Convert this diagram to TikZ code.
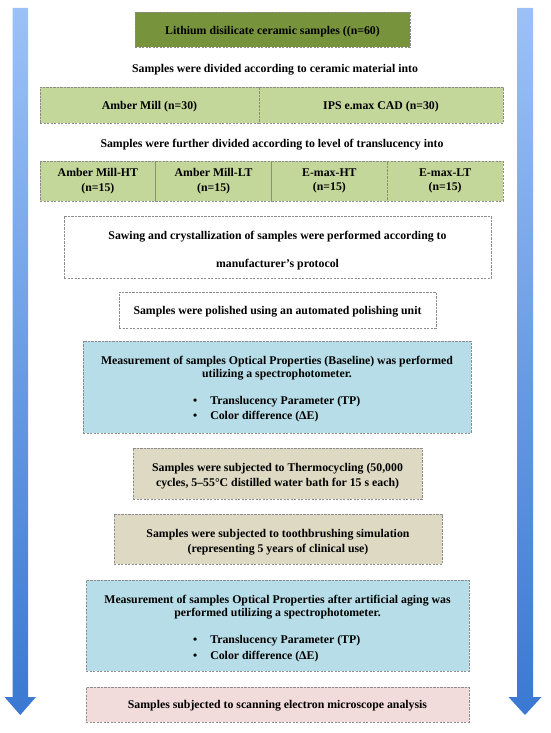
\documentclass[tikz,border=0pt]{standalone}
\usepackage{fontspec}
\setmainfont{Liberation Serif}
\definecolor{darkgreen}{HTML}{77933C}
\definecolor{lightgreen}{HTML}{C4D79B}
\definecolor{lightblue}{HTML}{B7DEE8}
\definecolor{beige}{HTML}{DDD9C3}
\definecolor{pink}{HTML}{F2DCDB}
\definecolor{bordergray}{HTML}{8C8C8C}
\definecolor{arrowtop}{HTML}{9CC1F7}
\definecolor{arrowbot}{HTML}{3A78D2}
\begin{document}
\begin{tikzpicture}[x=1pt,y=-1pt,
  font=\bfseries\fontsize{11.8}{14.5}\selectfont,
  box/.style={draw=bordergray, dash pattern=on 2.2pt off 1.3pt, line width=0.8pt,
    inner sep=0pt, anchor=center},
  plain/.style={inner sep=0pt, align=center, anchor=center},
  bigarrow/.style={top color=arrowtop, bottom color=arrowbot}]
\useasboundingbox (0,0) rectangle (550,733);
% side arrows
\shade[bigarrow] (12.5,8) -- (28,8) -- (28,697) -- (36,697) -- (20.25,715) -- (4.5,697) -- (12.5,697) -- cycle;
\shade[bigarrow] (517,8) -- (533,8) -- (533,697) -- (541.5,697) -- (525,715) -- (508.5,697) -- (517,697) -- cycle;
% top box
\node[box, fill=darkgreen, minimum width=275pt, minimum height=35pt] (top) at (272.5,29.5) {};
\node[plain] (topT) at (272.5,32) {Lithium disilicate ceramic samples ((n=60)};
\node[plain] (t1) at (275,70) {Samples were divided according to ceramic material into};
% row 2
\node[box, fill=lightgreen, minimum width=219pt, minimum height=36pt] (am) at (149.5,105) {};
\node[plain] (amT) at (149.5,107) {Amber Mill (n=30)};
\node[box, fill=lightgreen, minimum width=244pt, minimum height=36pt] (ips) at (381,105) {};
\node[plain] (ipsT) at (381,107) {IPS e.max CAD (n=30)};
\node[plain] (t2) at (272,145) {Samples were further divided according to level of translucency into};
% row 4
\node[box, fill=lightgreen, minimum width=115.75pt, minimum height=40pt] (amht) at (97.875,181) {};
\node[box, fill=lightgreen, minimum width=115.75pt, minimum height=40pt] (amlt) at (213.625,181) {};
\node[box, fill=lightgreen, minimum width=115.75pt, minimum height=40pt] (emht) at (329.375,181) {};
\node[box, fill=lightgreen, minimum width=115.75pt, minimum height=40pt] (emlt) at (445.125,181) {};
\node[plain] (amhtT) at (97.875,181) {Amber Mill-HT\\(n=15)};
\node[plain] (amltT) at (213.625,181) {Amber Mill-LT\\(n=15)};
\node[plain] (emhtT) at (329.375,181) {E-max-HT\\(n=15)};
\node[plain] (emltT) at (445.125,181) {E-max-LT\\(n=15)};
% sawing
\node[box, fill=white, minimum width=427pt, minimum height=62pt] (saw) at (277.5,247) {};
\node[plain, font=\bfseries\fontsize{11.8}{28}\selectfont] (sawT) at (277.5,251) {Sawing and crystallization of samples were performed according to\\manufacturer’s protocol};
% polished
\node[box, fill=white, minimum width=317pt, minimum height=36pt] (pol) at (277.5,310) {};
\node[plain] (polT) at (277.5,312) {Samples were polished using an automated polishing unit};
% measurement 1
\node[box, fill=lightblue, minimum width=388pt, minimum height=92pt] (m1) at (277,387) {};
\node[plain, font=\bfseries\fontsize{11.8}{13.5}\selectfont] (m1t) at (277,368) {Measurement of samples Optical Properties (Baseline) was performed\\utilizing a spectrophotometer.};
\node[plain, anchor=west, align=left, font=\bfseries\fontsize{11.8}{15.5}\selectfont] (m1l) at (193,409) {\begin{tabular}{@{}l@{\hspace{13pt}}l@{}}•&Translucency Parameter (TP)\\•&Color difference (ΔE)\end{tabular}};
% thermocycling
\node[box, fill=beige, minimum width=289pt, minimum height=51pt] (thermo) at (277.5,473.5) {};
\node[plain] (thermoT) at (277.5,476) {Samples were subjected to Thermocycling (50,000\\cycles, 5–55°C distilled water bath for 15 s each)};
% toothbrushing
\node[box, fill=beige, minimum width=328pt, minimum height=50pt] (tooth) at (278,539) {};
\node[plain] (toothT) at (278,542) {Samples were subjected to toothbrushing simulation\\(representing 5 years of clinical use)};
% measurement 2
\node[box, fill=lightblue, minimum width=383pt, minimum height=91pt] (m2) at (277.5,625.5) {};
\node[plain, font=\bfseries\fontsize{11.8}{13.5}\selectfont] (m2t) at (277.5,607) {Measurement of samples Optical Properties after artificial aging was\\performed utilizing a spectrophotometer.};
\node[plain, anchor=west, align=left, font=\bfseries\fontsize{11.8}{15.5}\selectfont] (m2l) at (193,648.5) {\begin{tabular}{@{}l@{\hspace{13pt}}l@{}}•&Translucency Parameter (TP)\\•&Color difference (ΔE)\end{tabular}};
% SEM
\node[box, fill=pink, minimum width=383pt, minimum height=35pt] (sem) at (277.5,704.5) {};
\node[plain] (semT) at (277.5,706) {Samples subjected to scanning electron microscope analysis};
\end{tikzpicture}
\end{document}
